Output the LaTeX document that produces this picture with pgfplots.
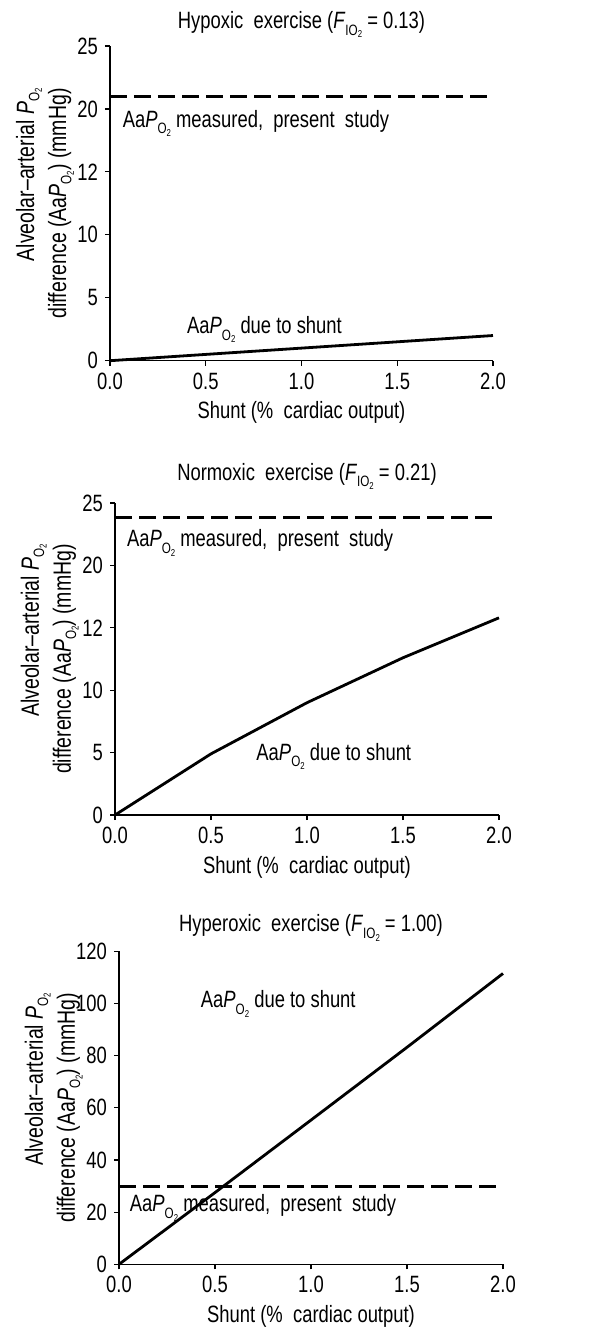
\documentclass[border=0pt]{standalone}
\usepackage{fontspec}
\setmainfont{Liberation Sans}[FakeStretch=0.78]
\usepackage{pgfplots}
\pgfplotsset{compat=1.18}
\newcommand\fsz{\fontsize{11.8}{13}\selectfont}
\newcommand\ysz{\fontsize{12.5}{16}\selectfont}
\newcommand\subA{\fontsize{7.5}{8}\selectfont}
\newcommand\subB{\fontsize{5}{6}\selectfont}
\newcommand\PO{\textit{P}\raisebox{-0.55ex}{\subA O\raisebox{-0.35ex}{\subB 2}}}
\newcommand\POy{\textit{P}\raisebox{-0.4ex}{\subA O\raisebox{-0.3ex}{\subB 2}}}
\newcommand\FIO{\textit{F}\raisebox{-0.55ex}{\subA IO\raisebox{-0.35ex}{\subB 2}}}
\pgfplotsset{
 every axis title shift=0pt,
 panel/.style={
  scale only axis, axis lines=left, axis line style={-, line width=0.6pt},
  xmin=0, xmax=2, xtick={0,0.5,1,1.5,2},
  xticklabel style={/pgf/number format/fixed, /pgf/number format/fixed zerofill, /pgf/number format/precision=1},
  /pgf/number format/assume math mode=true,
  tick align=outside, major tick length=2.5pt, tick style={line width=0.6pt, black},
  tick label style={font=\fsz},
  title style={font=\fsz, at={(axis description cs:0.5,1)}, anchor=base},
  xlabel={Shunt (\%~ cardiac output)},
  xlabel style={font=\fsz, at={(axis description cs:0.5,0)}, anchor=center, yshift=-26pt},
  ylabel={\ysz Alveolar--arterial \POy\\\ysz difference (Aa\POy) (mmHg)},
  ylabel style={font=\ysz, align=right, at={(axis description cs:-0.17,0.5)}, anchor=center},
  clip=false,
 },
 dat/.style={black, line width=1.4pt, no marks},
 meas/.style={black, line width=1.5pt, no marks, dash pattern=on 8.5pt off 3.5pt},
}
\begin{document}
\begin{tikzpicture}
\useasboundingbox (0,0) rectangle (305.5pt,-663.5pt);
% Panel 1
\begin{axis}[panel, at={(55pt,-180.35pt)}, anchor=south west,
  width=191.5pt, height=157.35pt, ymin=0, ymax=25,
  ytick={0,5,10,15,20,25}, yticklabels={0,5,10,12,20,25},
  title style={yshift=8.9pt},
  title={Hypoxic~ exercise (\FIO\ = 0.13)}]
\addplot[meas] coordinates {(0,21) (2,21)};
\addplot[dat] coordinates {(0,0) (0.5,0.5) (1,1) (1.5,1.5) (2,2)};
\node[anchor=base west, font=\fsz] at (axis cs:0.03,18.56) {Aa\PO\ measured,~ present~ study};
\node[anchor=base west, font=\fsz] at (axis cs:0.366,2.18) {Aa\PO\ due to shunt};
\end{axis}
% Panel 2
\begin{axis}[panel, at={(57.5pt,-407.5pt)}, anchor=south west,
  width=192pt, height=156pt, ymin=0, ymax=25,
  ytick={0,5,10,15,20,25}, yticklabels={0,5,10,12,20,25},
  title style={yshift=11.5pt},
  title={Normoxic~ exercise (\FIO\ = 0.21)}]
\addplot[meas] coordinates {(0,23.8) (2,23.8)};
\addplot[dat] coordinates {(0,0) (0.5,4.9) (1,9.0) (1.5,12.6) (2,15.8)};
\node[anchor=base west, font=\fsz] at (axis cs:0.026,21.5) {Aa\PO\ measured,~ present~ study};
\node[anchor=base west, font=\fsz] at (axis cs:0.70,4.4) {Aa\PO\ due to shunt};
\end{axis}
% Panel 3
\begin{axis}[panel, at={(59.5pt,-632.15pt)}, anchor=south west,
  width=192pt, height=156.5pt, ymin=0, ymax=120,
  ytick={0,20,40,60,80,100,120},
  title style={yshift=9.7pt},
  title={Hyperoxic~ exercise (\FIO\ = 1.00)}]
\addplot[meas] coordinates {(0,30) (2,30)};
\addplot[dat] coordinates {(0,0) (0.5,27.5) (1,55.3) (1.5,83.2) (2,111.5)};
\node[anchor=base west, font=\fsz] at (axis cs:0.39,98.5) {Aa\PO\ due to shunt};
\node[anchor=base west, font=\fsz] at (axis cs:0.02,20.1) {Aa\PO\ measured,~ present~ study};
\end{axis}
\end{tikzpicture}
\end{document}
